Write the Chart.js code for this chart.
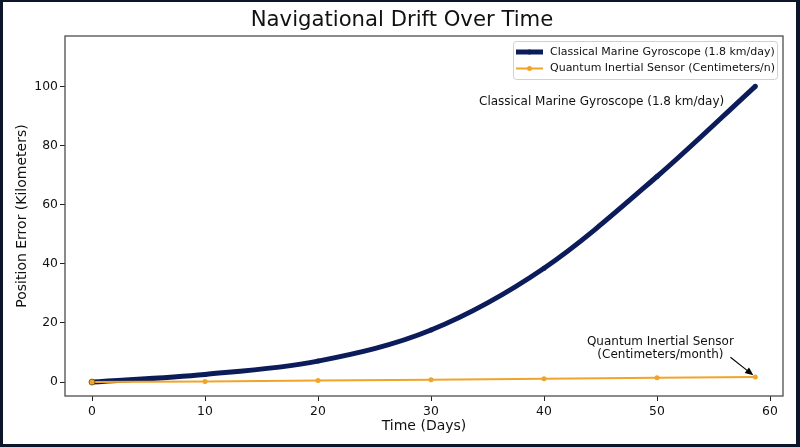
<!DOCTYPE html>
<html>
<head>
<meta charset="utf-8">
<script src="https://cdn.jsdelivr.net/npm/chart.js@4.4.1/dist/chart.umd.min.js"></script>
<style>
  html, body { margin: 0; padding: 0; background: #0b1628; }
  #wrap { position: relative; width: 800px; height: 447px; }
</style>
</head>
<body>
<div id="wrap"><canvas id="grafico" width="800" height="447"></canvas></div>
<script>
// Datos
const dias = [0, 10, 20, 30, 40, 50, 58.7];
const errorClasico = [0, 2.6, 7.1, 17.6, 38.5, 69.5, 100];
const errorCuantico = [0, 0.2, 0.55, 0.8, 1.1, 1.45, 1.75];
const ticksX = [0, 10, 20, 30, 40, 50, 60];
const ticksY = [0, 20, 40, 60, 80, 100];
const etiquetas = ['Classical Marine Gyroscope (1.8 km/day)', 'Quantum Inertial Sensor (Centimeters/n)'];

const AZUL = '#0c1c5a';
const NARANJA = '#f0a52a';
const FUENTE = "'DejaVu Sans', sans-serif";

const puntos = (xs, ys) => xs.map((x, i) => ({ x: x, y: ys[i] }));

// Fondo, marco, textos, leyenda y flecha
const extras = {
    id: 'extras',
    beforeDraw(chart) {
        const c = chart.ctx;
        c.save();
        c.fillStyle = '#0b1628';
        c.fillRect(0, 0, 800, 447);
        c.fillStyle = '#ffffff';
        c.fillRect(3, 2, 793, 442);
        c.restore();
    },
    afterDraw(chart) {
        const c = chart.ctx;
        const a = chart.chartArea;
        const sx = chart.scales.x, sy = chart.scales.y;
        c.save();
        // marco del area
        c.strokeStyle = '#4d4d4d';
        c.lineWidth = 1.3;
        c.strokeRect(a.left, a.top, a.right - a.left, a.bottom - a.top);

        c.fillStyle = '#111';
        c.textAlign = 'center';
        c.textBaseline = 'middle';
        c.font = '21.2px ' + FUENTE;
        c.fillText('Navigational Drift Over Time', 402, 20);
        c.font = '14px ' + FUENTE;
        c.fillText('Time (Days)', (a.left + a.right) / 2, 426);
        c.save();
        c.translate(22, (a.top + a.bottom) / 2);
        c.rotate(-Math.PI / 2);
        c.fillText('Position Error (Kilometers)', 0, 0);
        c.restore();

        // anotaciones
        c.font = '12px ' + FUENTE;
        c.fillText('Classical Marine Gyroscope (1.8 km/day)', sx.getPixelForValue(45.1), sy.getPixelForValue(94.7));
        c.fillText('Quantum Inertial Sensor', sx.getPixelForValue(50.3), sy.getPixelForValue(13.6));
        c.fillText('(Centimeters/month)', sx.getPixelForValue(50.3), sy.getPixelForValue(9.2));

        // flecha
        const n = dias.length - 1;
        const x1 = sx.getPixelForValue(56.5), y1 = sy.getPixelForValue(8.4);
        const px = sx.getPixelForValue(dias[n]), py = sy.getPixelForValue(errorCuantico[n]);
        const ang = Math.atan2(py - y1, px - x1);
        const x2 = px - 2.5 * Math.cos(ang), y2 = py - 2.5 * Math.sin(ang);
        c.strokeStyle = '#000';
        c.fillStyle = '#000';
        c.lineWidth = 1.1;
        c.beginPath();
        c.moveTo(x1, y1);
        c.lineTo(x2 - 6 * Math.cos(ang), y2 - 6 * Math.sin(ang));
        c.stroke();
        c.beginPath();
        c.moveTo(x2, y2);
        c.lineTo(x2 - 9 * Math.cos(ang - 0.4), y2 - 9 * Math.sin(ang - 0.4));
        c.lineTo(x2 - 9 * Math.cos(ang + 0.4), y2 - 9 * Math.sin(ang + 0.4));
        c.closePath();
        c.fill();

        // leyenda
        const lx = 513, ly = 41, lw = 264, lh = 38;
        c.fillStyle = 'rgba(255,255,255,0.85)';
        c.strokeStyle = '#d0d0d0';
        c.lineWidth = 1;
        c.beginPath();
        c.roundRect(lx + 0.5, ly + 0.5, lw, lh, 3);
        c.fill();
        c.stroke();
        const filas = [52, 68.5];
        chart.data.datasets.forEach((ds, i) => {
            const y = filas[i];
            c.strokeStyle = ds.borderColor;
            c.lineWidth = ds.borderWidth;
            c.beginPath();
            c.moveTo(516, y);
            c.lineTo(543, y);
            c.stroke();
            c.fillStyle = ds.borderColor;
            c.beginPath();
            c.arc(529.5, y, 2.5, 0, Math.PI * 2);
            c.fill();
            c.fillStyle = '#111';
            c.textAlign = 'left';
            c.font = '11px ' + FUENTE;
            c.fillText(ds.label, 550, y);
        });
        c.restore();
    }
};

const ctx = document.getElementById('grafico').getContext('2d');
new Chart(ctx, {
    type: 'line',
    data: {
        datasets: [{
            label: etiquetas[0],
            data: puntos(dias, errorClasico),
            borderColor: AZUL,
            backgroundColor: AZUL,
            borderWidth: 5,
            pointRadius: 2.5,
            pointBackgroundColor: AZUL,
            pointBorderWidth: 0,
            cubicInterpolationMode: 'monotone',
            order: 1
        }, {
            label: etiquetas[1],
            data: puntos(dias, errorCuantico),
            borderColor: NARANJA,
            backgroundColor: NARANJA,
            borderWidth: 2,
            pointRadius: [3, 2.5, 2.5, 2.5, 2.5, 2.5, 2.5],
            pointBackgroundColor: NARANJA,
            pointBorderColor: ['#6a4814', NARANJA, NARANJA, NARANJA, NARANJA, NARANJA, NARANJA],
            pointBorderWidth: [0.8, 0, 0, 0, 0, 0, 0],
            order: 0
        }]
    },
    options: {
        responsive: false,
        animation: false,
        layout: { padding: { left: 0, top: 36, right: 17, bottom: 0 } },
        plugins: {
            legend: { display: false },
            title: { display: false },
            tooltip: { enabled: false }
        },
        scales: {
            x: {
                type: 'linear',
                min: -2.39,
                max: 61.15,
                afterBuildTicks: s => { s.ticks = ticksX.map(v => ({ value: v })); },
                afterFit: s => { s.height = 51; },
                grid: { drawOnChartArea: false, tickLength: 5, color: '#222', lineWidth: 1 },
                border: { display: false },
                ticks: { color: '#111', padding: 3, font: { family: FUENTE, size: 12.4 }, maxRotation: 0 }
            },
            y: {
                min: -4.7,
                max: 117,
                afterBuildTicks: s => { s.ticks = ticksY.map(v => ({ value: v })); },
                afterFit: s => { s.width = 65; },
                grid: { drawOnChartArea: false, tickLength: 5, color: '#222', lineWidth: 1 },
                border: { display: false },
                ticks: { color: '#111', padding: 2, font: { family: FUENTE, size: 12.4 } }
            }
        }
    },
    plugins: [extras]
});
</script>
</body>
</html>
